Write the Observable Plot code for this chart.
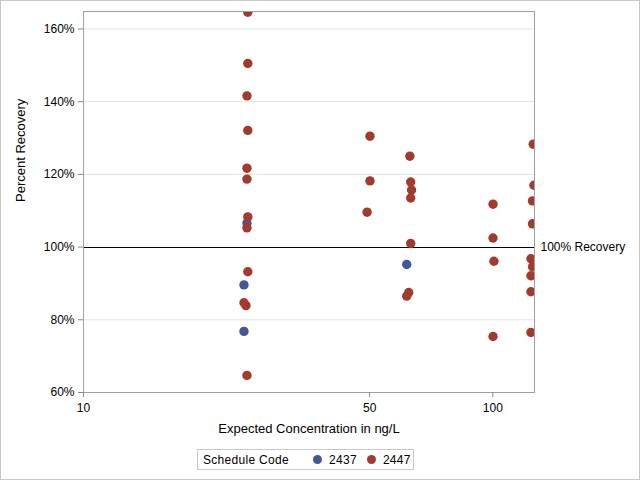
<!DOCTYPE html>
<html>
<head>
<meta charset="utf-8">
<script src="https://cdn.jsdelivr.net/npm/d3@7"></script>
<script src="https://cdn.jsdelivr.net/npm/@observablehq/plot@0.6"></script>
<style>
  body { margin: 0; background: #fff; font-family: "Liberation Sans", Arial, sans-serif; }
  #wrap { position: relative; width: 640px; height: 480px; overflow: hidden; }
  #border { position: absolute; left: 0; top: 0; width: 640px; height: 480px; box-sizing: border-box; border: 1px solid #c8c8c8; pointer-events: none; }
  #chart { position: absolute; left: 0; top: 0; }
  #legend { position: absolute; left: 197px; top: 449px; width: 217px; height: 21px; box-sizing: border-box; border: 1px solid #c8c8c8; font-size: 12px; letter-spacing: 0.3px; color: #000; display: flex; align-items: center; white-space: nowrap; }
  #legend .sw { display: inline-block; width: 9px; height: 9px; border-radius: 50%; margin-right: 7px; }
</style>
</head>
<body>
<div id="wrap">
  <div id="chart"></div>
  <div id="legend"></div>
  <div id="border"></div>
</div>
<script>
// Series: Schedule Code 2437
const x2437 = [25.08, 24.66, 24.66, 61.6];
const y2437 = [106.6, 89.6, 76.8, 95.2];
// Series: Schedule Code 2447
const x2447 = [25.2, 25.2, 25.08, 25.2, 25.08, 25.08, 25.2, 25.08, 25.2, 24.66, 24.94, 25.08,
               50.1, 62.7, 50.1, 63.0, 63.3, 63.0, 49.3, 63.0, 62.3, 61.6,
               100.1, 100.1, 100.6, 100.1,
               125.5, 126.0, 125.0, 125.0, 123.9, 125.0, 123.9, 123.9, 123.9];
const y2447 = [164.6, 150.5, 141.6, 132.1, 121.7, 118.7, 108.3, 105.3, 93.2, 84.7, 83.9, 64.7,
               130.5, 125.0, 118.2, 117.9, 115.7, 113.5, 109.6, 101.0, 87.5, 86.5,
               111.8, 102.5, 96.1, 75.4,
               128.3, 117.0, 112.7, 106.4, 96.8, 94.6, 92.1, 87.7, 76.5];
const seriesNames = ["2437", "2447"];
const seriesColors = ["#445694", "#A23A2E"];
const xTicks = [10, 50, 100];
const yTicks = [60, 80, 100, 120, 140, 160];
const gridTicks = [80, 120, 140, 160];
const refValue = 100;
const refLabel = "100% Recovery";

const data = [
  ...x2437.map((x, i) => ({code: "2437", x, y: y2437[i]})),
  ...x2447.map((x, i) => ({code: "2447", x, y: y2447[i]}))
];

const chart = Plot.plot({
  width: 640,
  height: 440,
  marginLeft: 83,
  marginRight: 106,
  marginTop: 11,
  marginBottom: 48,
  style: {fontFamily: "Liberation Sans, Arial, sans-serif", fontSize: "12px", color: "#000", background: "transparent"},
  x: {type: "log", domain: [10, 126.4], label: null},
  y: {domain: [60, 164.8], label: null},
  color: {domain: seriesNames, range: seriesColors},
  marks: [
    Plot.gridY(gridTicks, {stroke: "#e3e3e3", strokeOpacity: 1}),
    Plot.ruleY([refValue], {stroke: "#000", strokeWidth: 1, shapeRendering: "crispEdges"}),
    Plot.dot(data, {x: "x", y: "y", fill: "code", r: 4.7, clip: true}),
    Plot.frame({stroke: "#a0a0a0"}),
    Plot.axisY(yTicks, {tickFormat: d => d + "%", tickSize: 5, tickPadding: 4, stroke: "#888", fill: "#000", label: null}),
    Plot.axisX(xTicks, {tickFormat: d => String(d), tickSize: 5, tickPadding: 6, stroke: "#888", fill: "#000", label: null}),
    Plot.text([refValue], {y: d => d, frameAnchor: "right", dx: 6, textAnchor: "start", text: () => refLabel, fill: "#000", fontSize: 12}),
    Plot.text(["Expected Concentration in ng/L"], {frameAnchor: "bottom", dy: 40, text: d => d, fill: "#000", fontSize: 13}),
    Plot.text(["Percent Recovery"], {frameAnchor: "left", dx: -63, rotate: -90, text: d => d, fill: "#000", fontSize: 13})
  ]
});
document.getElementById("chart").appendChild(chart);

const legend = document.getElementById("legend");
let html = '<span style="margin-left:5px;margin-right:24px">Schedule Code</span>';
seriesNames.forEach((s, i) => {
  html += `<span class="sw" style="background:${seriesColors[i]}"></span><span style="margin-right:${i === 0 ? 10 : 0}px">${s}</span>`;
});
legend.innerHTML = html;
</script>
</body>
</html>
